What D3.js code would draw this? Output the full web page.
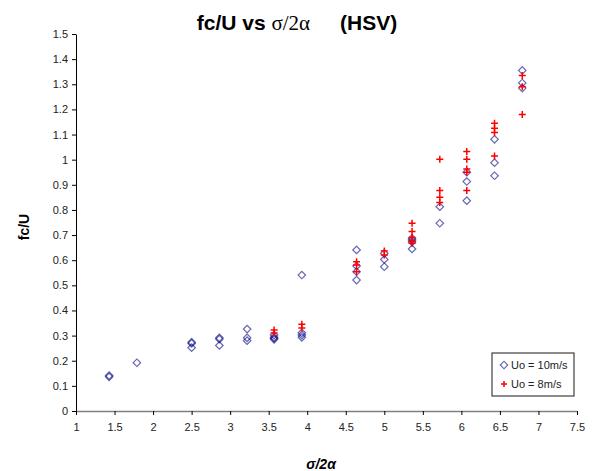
<!DOCTYPE html>
<html>
<head>
<meta charset="utf-8">
<script src="https://cdn.jsdelivr.net/npm/d3@7"></script>
<style>
  body { margin: 0; background: #fff; }
  text { font-family: Arial, "Liberation Sans", sans-serif; }
</style>
</head>
<body>
<svg></svg>
<script>
// Data: x value of each column, then y values per series
const xCols = [1.43, 1.79, 2.5, 2.86, 3.22, 3.57, 3.93, 4.64, 5.0, 5.36, 5.72, 6.07, 6.43, 6.79];

// Uo = 10m/s (diamonds), one list per column
const uo10 = [
  [0.136, 0.141],
  [0.192],
  [0.274, 0.269, 0.252],
  [0.291, 0.286, 0.261],
  [0.326, 0.291, 0.28],
  [0.302, 0.293, 0.285, 0.289],
  [0.541, 0.311, 0.302, 0.293],
  [0.641, 0.577, 0.554, 0.521],
  [0.627, 0.603, 0.574],
  [0.687, 0.68, 0.672, 0.645],
  [0.813, 0.747],
  [0.95, 0.913, 0.837],
  [1.081, 0.988, 0.936],
  [1.355, 1.305, 1.285]
];

// Uo = 8m/s (crosses)
const uo8 = [
  [], [], [], [], [],
  [0.322, 0.31],
  [0.345, 0.33],
  [0.594, 0.581, 0.554],
  [0.637, 0.621],
  [0.747, 0.714, 0.69, 0.674, 0.667],
  [1.002, 0.877, 0.85, 0.83],
  [1.032, 1.002, 0.963, 0.95, 0.877],
  [1.145, 1.125, 1.108, 1.015],
  [1.335, 1.29, 1.18]
];

const xTicks = [1, 1.5, 2, 2.5, 3, 3.5, 4, 4.5, 5, 5.5, 6, 6.5, 7, 7.5];
const yTicks = [0, 0.1, 0.2, 0.3, 0.4, 0.5, 0.6, 0.7, 0.8, 0.9, 1, 1.1, 1.2, 1.3, 1.4, 1.5];

const legendLabels = ["Uo = 10m/s", "Uo = 8m/s"];

// flatten into points
function toPoints(series) {
  const pts = [];
  series.forEach((vals, i) => vals.forEach(v => pts.push({ x: xCols[i], y: v })));
  return pts;
}
const pts10 = toPoints(uo10);
const pts8 = toPoints(uo8);

const width = 596;
const height = 471;
const margin = { top: 34, right: 19, bottom: 60, left: 76 };

const svg = d3.select("svg").attr("width", width).attr("height", height);

const x = d3.scaleLinear().domain([1, 7.5]).range([margin.left, width - margin.right]);
const y = d3.scaleLinear().domain([0, 1.5]).range([height - margin.bottom, margin.top]);

const fmt = d => String(+d.toFixed(1));

// y axis
const yAxis = svg.append("g")
  .attr("transform", `translate(${margin.left},0)`)
  .call(d3.axisLeft(y).tickValues(yTicks).tickFormat(fmt).tickSize(4).tickSizeOuter(0).tickPadding(4));
yAxis.select(".domain").attr("stroke", "#000");
yAxis.selectAll("line").attr("stroke", "#000");
yAxis.selectAll("text").style("font-size", "11px").attr("fill", "#222");

// x axis
const xAxis = svg.append("g")
  .attr("transform", `translate(0,${height - margin.bottom})`)
  .call(d3.axisBottom(x).tickValues(xTicks).tickFormat(fmt).tickSize(4).tickSizeOuter(0).tickPadding(8));
xAxis.select(".domain").attr("stroke", "#808080").attr("stroke-width", 1.6);
xAxis.selectAll("line").attr("stroke", "#000");
xAxis.selectAll("text").style("font-size", "11px").attr("fill", "#222");

// diamonds
const diamond = d3.symbol().type(d3.symbolSquare).size(28);
svg.append("g")
  .selectAll("path")
  .data(pts10)
  .join("path")
  .attr("d", diamond)
  .attr("transform", d => `translate(${x(d.x)},${y(d.y)}) rotate(45)`)
  .attr("fill", "none")
  .attr("stroke", "#000080")
  .attr("stroke-opacity", 0.6)
  .attr("stroke-width", 1.2);

// crosses
function plus(cx, cy, r) {
  return `M${cx - r},${cy}H${cx + r}M${cx},${cy - r}V${cy + r}`;
}
svg.append("g")
  .selectAll("path")
  .data(pts8)
  .join("path")
  .attr("d", d => plus(x(d.x), y(d.y), 3.5))
  .attr("fill", "none")
  .attr("stroke", "#ff0000")
  .attr("stroke-width", 1.5);

// title
const title = svg.append("text")
  .attr("x", 297)
  .attr("y", 30)
  .attr("text-anchor", "middle")
  .style("font-size", "21px")
  .style("font-weight", "bold");
title.append("tspan").text("fc/U vs ");
title.append("tspan")
  .style("font-family", "'Liberation Serif', 'DejaVu Serif', serif")
  .style("font-weight", "normal")
  .text("σ/2α");
title.append("tspan").attr("dx", 30).text("(HSV)");

// axis titles
svg.append("text")
  .attr("x", 321)
  .attr("y", 469)
  .attr("text-anchor", "middle")
  .style("font-size", "14px")
  .style("font-weight", "bold")
  .style("font-style", "italic")
  .text("σ/2α");

svg.append("text")
  .attr("transform", "translate(29,227) rotate(-90)")
  .attr("text-anchor", "middle")
  .style("font-size", "14px")
  .style("font-weight", "bold")
  .text("fc/U");

// legend
const legend = svg.append("g").attr("transform", "translate(492,353)");
legend.append("rect")
  .attr("width", 82)
  .attr("height", 43)
  .attr("fill", "#fff")
  .attr("stroke", "#404040")
  .attr("stroke-width", 1.2);

legend.append("path")
  .attr("d", diamond)
  .attr("transform", "translate(12,12) rotate(45)")
  .attr("fill", "none")
  .attr("stroke", "#000080")
  .attr("stroke-opacity", 0.6)
  .attr("stroke-width", 1.2);
legend.append("path")
  .attr("d", plus(12, 31, 3))
  .attr("stroke", "#ff0000")
  .attr("stroke-width", 1.5);

legend.selectAll("text.lbl")
  .data(legendLabels)
  .join("text")
  .attr("class", "lbl")
  .attr("x", 19)
  .attr("y", (d, i) => 16 + i * 19)
  .style("font-size", "11px")
  .attr("fill", "#222")
  .text(d => d);
</script>
</body>
</html>
